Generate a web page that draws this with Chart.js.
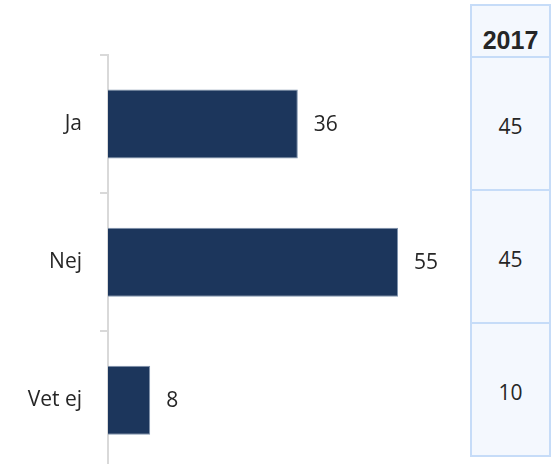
<!DOCTYPE html>
<html>
<head>
<meta charset="utf-8">
<script src="https://cdn.jsdelivr.net/npm/chart.js@4"></script>
<style>
  html, body { margin: 0; padding: 0; background: #fff; overflow: hidden; width: 551px; height: 464px; }
  #wrap { position: absolute; left: 0; top: 0; width: 460px; height: 500px; }
  #side { position: absolute; left: 470px; top: 4px; width: 81px; }
  .cell { box-sizing: border-box; background: #f4f8fe; border: 2px solid #c6dcf8; border-top: none;
          display: flex; align-items: center; justify-content: center; color: #262626; }
  .head { border-top: 2px solid #c6dcf8; height: 54px; font: bold 25px "Liberation Sans", Arial, sans-serif; padding-top: 18px; }
  .row { height: 133px; font: 21px "Open Sans", sans-serif; padding-top: 4px; }
</style>
</head>
<body>
<div id="wrap"><canvas id="myChart"></canvas></div>
<div id="side"></div>
<script>
'use strict';
// data
let categories = ['Ja', 'Nej', 'Vet ej'];
let values = [36, 55, 8];
let tableHeader = '2017';
let tableValues = [45, 45, 10];

// side table
let side = document.getElementById('side');
let head = document.createElement('div');
head.className = 'cell head';
head.textContent = tableHeader;
side.appendChild(head);
for(let i = 0; i < tableValues.length; i++){
  let cell = document.createElement('div');
  cell.className = 'cell row';
  cell.textContent = tableValues[i];
  side.appendChild(cell);
}

// value labels next to bars
const barLabels = {
  id: 'barLabels',
  afterDatasetsDraw(chart){
    let ctx = chart.ctx;
    let meta = chart.getDatasetMeta(0);
    ctx.save();
    ctx.font = '21px "Open Sans"';
    ctx.fillStyle = '#262626';
    ctx.textAlign = 'left';
    ctx.textBaseline = 'middle';
    meta.data.forEach((bar, i) => {
      ctx.fillText(values[i], bar.x + 16, bar.y + 1);
    });
    ctx.restore();
  }
};

const ctx = document.getElementById('myChart');
new Chart(ctx, {
  type: 'bar',
  data: {
    labels: categories,
    datasets: [{
      data: values,
      backgroundColor: '#1c365c',
      borderColor: '#7f93ad',
      borderWidth: 1,
      categoryPercentage: 1,
      barPercentage: 0.5
    }]
  },
  plugins: [barLabels],
  options: {
    indexAxis: 'y',
    responsive: true,
    maintainAspectRatio: false,
    animation: false,
    layout: { padding: { top: 55, right: 4, bottom: 2, left: 0 } },
    plugins: {
      legend: { display: false },
      tooltip: { enabled: false }
    },
    scales: {
      x: {
        display: false,
        min: 0,
        max: 66
      },
      y: {
        afterFit(axis){ axis.width = 108; },
        border: { color: '#d9d9d9', width: 2 },
        grid: {
          offset: true,
          drawOnChartArea: false,
          drawTicks: true,
          tickLength: 8,
          color: '#d9d9d9',
          lineWidth: 2
        },
        ticks: {
          padding: 18,
          color: '#262626',
          font: { family: 'Open Sans', size: 21 }
        }
      }
    }
  }
});
</script>
</body>
</html>
